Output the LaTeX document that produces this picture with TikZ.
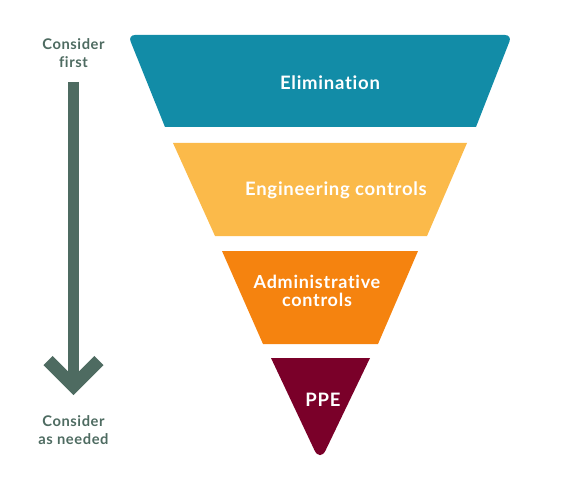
\documentclass[tikz,border=0pt]{standalone}
\usepackage{fontspec}
\setmainfont{Lato}[RawFeature={-liga}, LetterSpace=4]
\definecolor{elim}{HTML}{128CA7}
\definecolor{engi}{HTML}{FBBA4A}
\definecolor{admi}{HTML}{F5830F}
\definecolor{ppe}{HTML}{7A0029}
\definecolor{sage}{HTML}{4E6B61}
\tikzset{
  layertext/.style={text=white, font=\fontsize{18.5}{17.5}\selectfont\bfseries, align=center, inner sep=0pt},
  sidetext/.style={text=sage, font=\fontsize{14.7}{18.5}\selectfont\bfseries, align=center, inner sep=0pt},
}
\begin{document}
\begin{tikzpicture}[x=1pt,y=-1pt]
\useasboundingbox (0,0) rectangle (562,500);
% layers
\fill[elim] (165,127) [rounded corners=7]-- (128,35) -- (512,35) [sharp corners]-- (476,127) -- cycle;
\fill[engi] (173,143) -- (467,143) -- (427,236) -- (215,236) -- cycle;
\fill[admi] (222,251) -- (418,251) -- (378,344) -- (263,344) -- cycle;
\fill[ppe] (271,358) -- (370,358) [rounded corners=13]-- (320,462) [sharp corners]-- cycle;
\node[layertext] (elimination) at (330,83) {Elimination};
\node[layertext] (engineering) at (336,190) {Engineering controls};
\node[layertext, font=\fontsize{18}{17.5}\selectfont\bfseries] (administrative) at (317,291) {Administrative\\controls};
\node[layertext] (ppenode) at (323,400) {PPE};
% side arrow
\node[sidetext] (first) at (73.5,53) {Consider\\first};
\node[sidetext] (needed) at (73.5,430) {Consider\\as needed};
\coordinate (shafttop) at (73.5,82);
\coordinate (tip) at (73.5,386);
\coordinate (armL) at (48,360.5);
\coordinate (armR) at (99,360.5);
\draw[sage, line width=11] (shafttop) -- (tip);
\draw[sage, line width=13, line join=miter] (armL) -- (tip) -- (armR);
\end{tikzpicture}
\end{document}
